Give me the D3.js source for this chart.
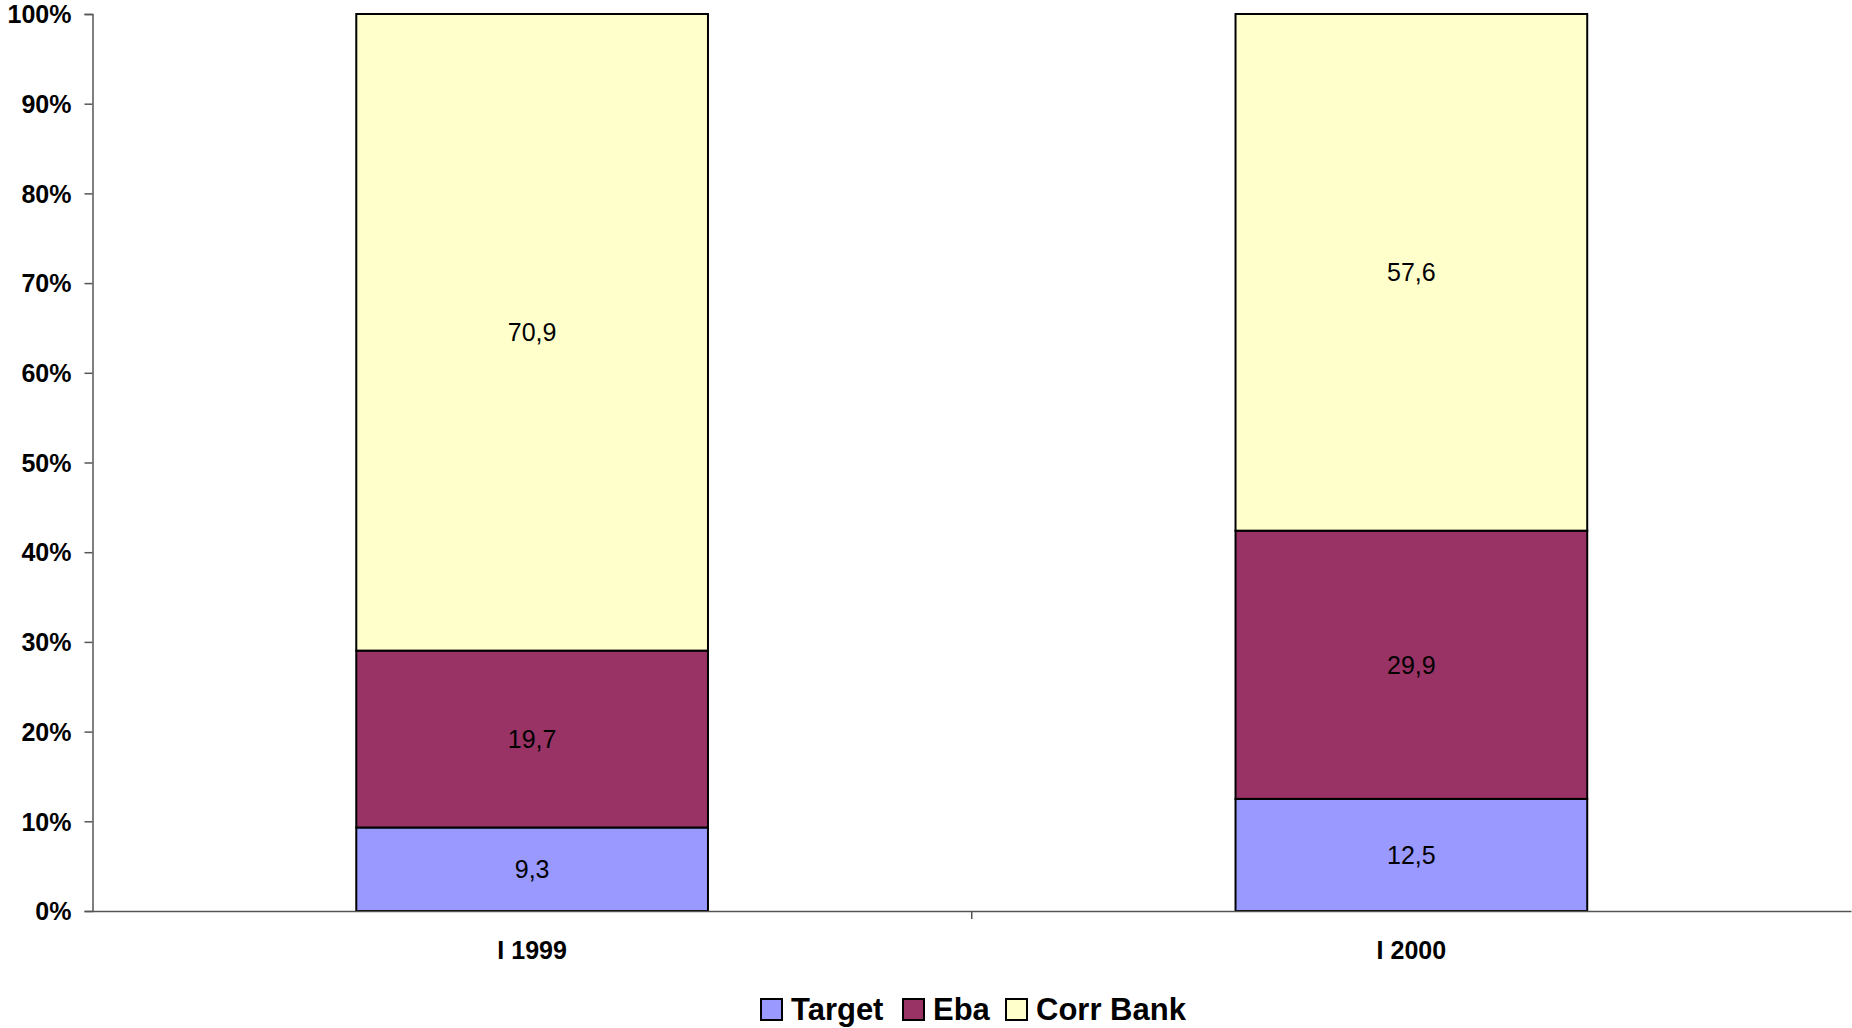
<!DOCTYPE html>
<html><head><meta charset="utf-8">
<script src="https://cdn.jsdelivr.net/npm/d3@7"></script>
<style>body{margin:0;background:#fff}svg{display:block}text{font-family:"Liberation Sans",Arial,sans-serif}</style>
</head><body>
<svg id="c" width="1852" height="1028"></svg>
<script>
const categories = ["I 1999", "I 2000"];
const seriesNames = ["Target", "Eba", "Corr Bank"];
const targetValues = [9.3, 12.5];
const ebaValues = [19.7, 29.9];
const corrBankValues = [70.9, 57.6];
const yTicks = [0, 10, 20, 30, 40, 50, 60, 70, 80, 90, 100];
const colors = ["#9999FF", "#993366", "#FFFFCC"];

(function () {
const svg = d3.select("#c");
const mLeft = 92.5, mRight = 1851, mTop = 14, mBottom = 911;
const x = d3.scaleBand().domain(categories).range([mLeft, mRight]).paddingInner(0.6).paddingOuter(0.3);
const xb = d3.scaleBand().domain(categories).range([mLeft, mRight]);
const y = d3.scaleLinear().domain([0, 100]).range([mBottom, mTop]);

const rows = categories.map((c, i) => ({cat: c, Target: targetValues[i], Eba: ebaValues[i], "Corr Bank": corrBankValues[i]}));
const stack = d3.stack().keys(seriesNames).offset(d3.stackOffsetExpand);
const layers = stack(rows);

const yAxis = svg.append("g").attr("transform", `translate(${mLeft},0)`)
  .call(d3.axisLeft(y).tickValues(yTicks).tickFormat(d => d + "%").tickSize(8).tickPadding(13));
yAxis.select(".domain").attr("stroke", "#555").attr("stroke-width", 1.5);
yAxis.selectAll(".tick line").attr("stroke", "#555").attr("stroke-width", 1.5);
yAxis.selectAll("text").attr("font-size", 25).attr("font-weight", "bold").attr("fill", "#000")
  .attr("font-family", "Liberation Sans, Arial, sans-serif").attr("dy", "0.35em");

const g = svg.append("g");
layers.forEach((layer, li) => {
  g.selectAll(null).data(layer).enter().append("rect")
    .attr("x", d => x(d.data.cat))
    .attr("width", x.bandwidth())
    .attr("y", d => y(d[1] * 100))
    .attr("height", d => y(d[0] * 100) - y(d[1] * 100))
    .attr("fill", colors[li]).attr("stroke", "#000").attr("stroke-width", 2);
  g.selectAll(null).data(layer).enter().append("text")
    .attr("x", d => x(d.data.cat) + x.bandwidth() / 2)
    .attr("y", d => y((d[0] + d[1]) / 2 * 100))
    .attr("dy", "0.35em").attr("text-anchor", "middle")
    .attr("font-size", 25).attr("fill", "#000")
    .text(d => String(d.data[layer.key]).replace(".", ","));
});

const xAxis = svg.append("g").attr("transform", `translate(0,${mBottom})`)
  .call(d3.axisBottom(xb).tickValues([]).tickSizeOuter(0));
xAxis.select(".domain").attr("stroke", "#555").attr("stroke-width", 1.5);
xAxis.selectAll("line.sep").data([categories[1]]).enter().append("line").attr("class", "sep")
  .attr("x1", d => xb(d)).attr("x2", d => xb(d)).attr("y1", 0).attr("y2", 8)
  .attr("stroke", "#555").attr("stroke-width", 1.5);
xAxis.selectAll("text.cl").data(categories).enter().append("text").attr("class", "cl")
  .attr("x", d => xb(d) + xb.bandwidth() / 2).attr("y", 48)
  .attr("text-anchor", "middle").attr("font-size", 25).attr("font-weight", "bold").attr("fill", "#000")
  .text(d => d);

const legendX = [761, 903, 1006];
const lg = svg.append("g");
seriesNames.forEach((s, i) => {
  lg.append("rect").attr("x", legendX[i]).attr("y", 999).attr("width", 21).attr("height", 21)
    .attr("fill", colors[i]).attr("stroke", "#000").attr("stroke-width", 2);
  lg.append("text").attr("x", legendX[i] + 30).attr("y", 1020)
    .attr("font-size", 31).attr("font-weight", "bold").attr("fill", "#000").text(s);
});
})();
</script>
</body></html>
